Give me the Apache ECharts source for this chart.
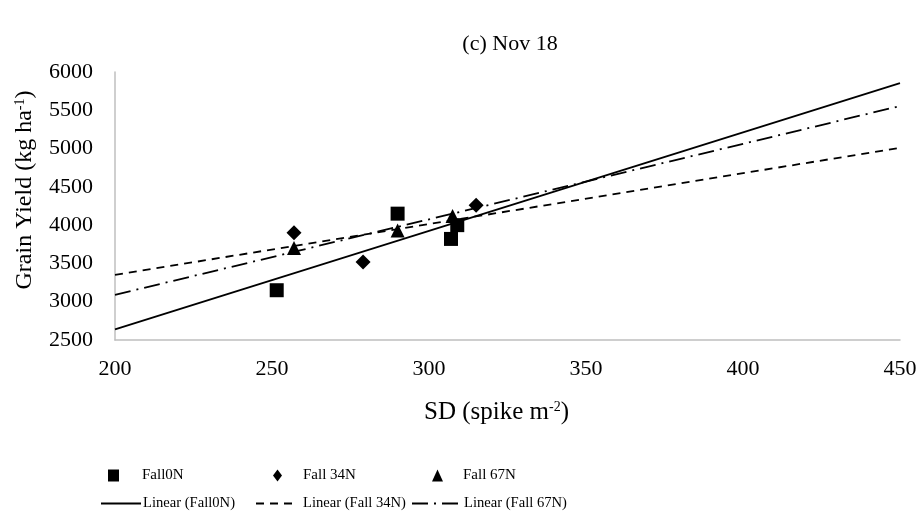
<!DOCTYPE html>
<html>
<head>
<meta charset="utf-8">
<script src="https://cdn.jsdelivr.net/npm/echarts@6/dist/echarts.min.js"></script>
<style>html,body{margin:0;padding:0;background:#fff}#c{width:923px;height:529px}</style>
</head>
<body>
<div id="c"></div>
<script>
var seriesNames = ['Fall0N', 'Fall 34N', 'Fall 67N'];
var fall0N = [[251.5, 3150], [290, 4150], [307, 3820], [309, 4000]];
var fall34N = [[257, 3900], [279, 3520], [315, 4260]];
var fall67N = [[257, 3700], [290, 3930], [307.5, 4120]];
var trendNames = ['Linear (Fall0N)', 'Linear (Fall 34N)', 'Linear (Fall 67N)'];
var trend0N = [[200, 2640], [450, 5855]];
var trend34N = [[200, 3350], [450, 5010]];
var trend67N = [[200, 3090], [450, 5555]];
var xTicks = [200, 250, 300, 350, 400, 450];
var yTicks = [2500, 3000, 3500, 4000, 4500, 5000, 5500, 6000];

var FONT = 'Liberation Serif';
var chart = echarts.init(document.getElementById('c'), null, {renderer: 'canvas'});

function markerLegend(name, left, top, w, h, textPad) {
  return {
    data: [name], left: left, top: top, orient: 'horizontal',
    itemWidth: w, itemHeight: h, padding: 0, selectedMode: false,
    textStyle: {fontFamily: FONT, fontSize: 15, color: '#000', padding: [0, 0, 0, textPad]}
  };
}
function lineLegend(name, left, top, w, textPad) {
  return {
    data: [name], left: left, top: top, orient: 'horizontal',
    itemWidth: w, itemHeight: 12, padding: 0, selectedMode: false,
    itemStyle: {opacity: 0},
    textStyle: {fontFamily: FONT, fontSize: 14.6, color: '#000', padding: [0, 0, 0, textPad]}
  };
}
var supRich = {sup: {fontFamily: FONT, fontSize: 14, verticalAlign: 'top', padding: [0, 0, 10, 0]}};

var option = {
  animation: false,
  title: {
    text: '(c) Nov 18', left: 505, top: 28, textAlign: 'center',
    textStyle: {fontFamily: FONT, fontSize: 22, fontWeight: 'normal', color: '#000'}
  },
  grid: {left: 115, right: 23, top: 72, bottom: 189},
  xAxis: {
    type: 'value', min: xTicks[0], max: xTicks[xTicks.length - 1], interval: 50,
    name: 'SD (spike m{sup|-2})', nameLocation: 'middle', nameGap: 60,
    nameTextStyle: {fontFamily: FONT, fontSize: 25, color: '#000', rich: supRich, padding: [0, 22, 0, 0]},
    axisLine: {lineStyle: {color: '#bfbfbf', width: 1.5}},
    axisTick: {show: false}, splitLine: {show: false},
    axisLabel: {fontFamily: FONT, fontSize: 22, color: '#000', margin: 18,
      formatter: function (v) { return String(v); }}
  },
  yAxis: {
    type: 'value', min: yTicks[0], max: yTicks[yTicks.length - 1], interval: 500,
    name: 'Grain Yield (kg ha{sup|-1})', nameLocation: 'middle', nameGap: 78,
    nameTextStyle: {fontFamily: FONT, fontSize: 24, color: '#000', rich: supRich, padding: [0, 0, 0, 32]},
    axisLine: {show: true, lineStyle: {color: '#bfbfbf', width: 1.5}},
    axisTick: {show: false}, splitLine: {show: false},
    axisLabel: {fontFamily: FONT, fontSize: 22, color: '#000', margin: 22,
      formatter: function (v) { return String(v); }}
  },
  legend: [
    markerLegend(seriesNames[0], 108, 468, 11, 12, 18),
    markerLegend(seriesNames[1], 273, 468, 9, 12, 16),
    markerLegend(seriesNames[2], 432, 468, 11, 12, 15),
    lineLegend(trendNames[0], 100, 496, 40, -3),
    lineLegend(trendNames[1], 255, 496, 42, 0),
    lineLegend(trendNames[2], 411, 496, 49, -2)
  ],
  series: [
    {name: seriesNames[0], type: 'scatter', data: fall0N, symbol: 'rect', symbolSize: 14, itemStyle: {color: '#000', opacity: 1}, z: 5},
    {name: seriesNames[1], type: 'scatter', data: fall34N, symbol: 'diamond', symbolSize: 15, itemStyle: {color: '#000', opacity: 1}, z: 5},
    {name: seriesNames[2], type: 'scatter', data: fall67N, symbol: 'triangle', symbolSize: 14, itemStyle: {color: '#000', opacity: 1}, z: 5},
    {name: trendNames[0], type: 'line', data: trend0N, symbol: 'none', itemStyle: {color: '#000'}, lineStyle: {color: '#000', width: 1.8, type: 'solid'}},
    {name: trendNames[1], type: 'line', data: trend34N, symbol: 'none', itemStyle: {color: '#000'}, lineStyle: {color: '#000', width: 1.8, type: [8, 6]}},
    {name: trendNames[2], type: 'line', data: trend67N, symbol: 'none', itemStyle: {color: '#000'}, lineStyle: {color: '#000', width: 1.8, type: [16, 6, 2, 6]}}
  ]
};
chart.setOption(option);
</script>
</body>
</html>
